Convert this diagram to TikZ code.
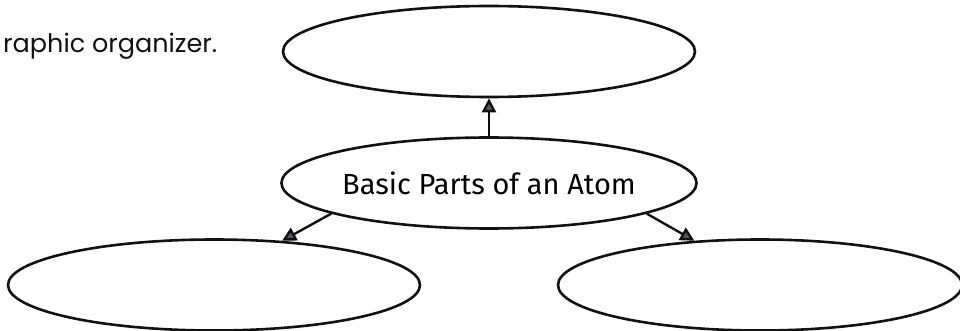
\documentclass[tikz,border=0pt]{standalone}
\usepackage{fontspec}
\setmainfont{Poppins}
\newfontfamily\handfont{Fira Sans}
\usepackage{xcolor}
\usetikzlibrary{arrows.meta,positioning,shapes.geometric}
\definecolor{cInk}{HTML}{111111}
\definecolor{cHead}{HTML}{55595E}
\tikzset{
  oval/.style={draw=cInk,ellipse,line width=2.6pt,minimum width=412pt,minimum height=91pt,inner sep=0pt},
  arr/.style={-{Triangle[length=14pt,width=14pt,fill=cHead]},line width=2.4pt,color=cInk},
  caption/.style={font=\fontsize{25.5}{30}\selectfont,text=cInk,inner sep=0pt},
}

\begin{document}
\begin{tikzpicture}[x=1pt,y=1pt]
  \useasboundingbox (0,0) rectangle (960,-331);
  \node[caption,anchor=base west] (head) at (3,-53) {raphic organizer.};
  % ovals
  \node[oval] (top)   at (489,-51.5) {};
  \node[oval] (atom)  at (489,-183)  {\handfont\fontsize{29}{34}\selectfont Basic Parts of an Atom};
  \node[oval] (left)  at (214,-285)  {};
  \node[oval,minimum width=404pt] (right) at (760,-285) {};
  % arrows
  \draw[arr] (atom.north) -- (top.south);
  \draw[arr] (atom.191) -- (left.33);
  \draw[arr] (atom.349) -- (right.146);
\end{tikzpicture}
\end{document}
